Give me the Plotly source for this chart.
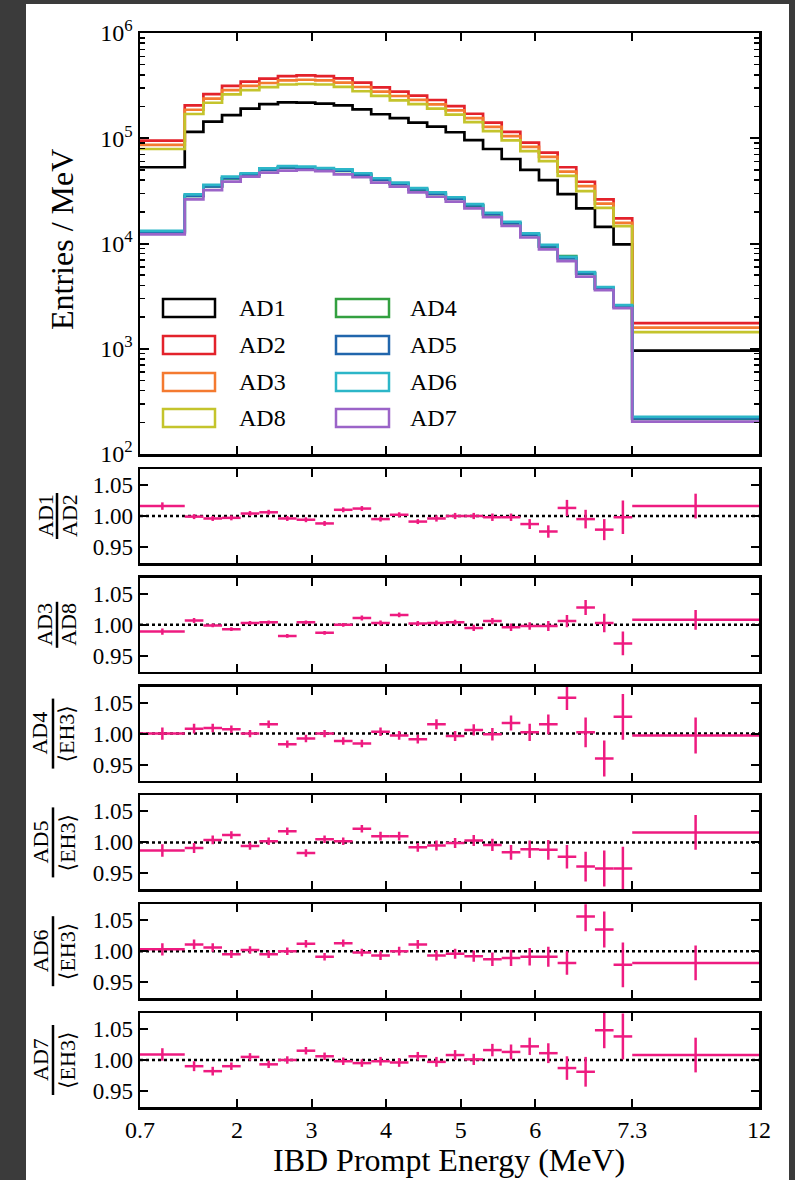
import plotly.graph_objects as go

# ---------------- data ----------------
EDGES = [0.7, 1.3, 1.55, 1.8, 2.05, 2.3, 2.55, 2.8, 3.05, 3.3, 3.55, 3.8, 4.05, 4.3,
         4.55, 4.8, 5.05, 5.3, 5.55, 5.8, 6.05, 6.3, 6.55, 6.8, 7.05, 7.3, 12.0]
TICK_VALUES = [0.7, 2, 3, 4, 5, 6, 7.3, 12]
TICK_LABELS = ["0.7", "2", "3", "4", "5", "6", "7.3", "12"]

AD1 = [53000, 115000, 143600, 166000, 191000, 211000, 219000, 218000, 213000, 205000, 188000, 169000, 155000,
       140500, 129000, 114000, 96000, 79000, 63500, 50000, 40000, 29500, 21600, 14400, 9800, 960]
AD2 = [95000, 205000, 262000, 315000, 345000, 368000, 390000, 395000, 390000, 371000, 337000, 305000, 277000,
       254000, 231000, 202000, 171000, 141000, 115000, 91000, 73000, 53000, 38600, 26300, 17300, 1750]
AD3 = [86500, 186500, 238400, 286600, 314000, 334900, 354900, 359500, 354900, 337600, 306700, 277600, 252100,
       231100, 210200, 183800, 155600, 128300, 104700, 82800, 66400, 48200, 35100, 23900, 15700, 1590]
AD8 = [79000, 170000, 217500, 261500, 286000, 305500, 324000, 327500, 324000, 307500, 279500, 253000, 229500,
       211000, 191500, 167500, 142000, 117000, 95500, 75500, 60500, 44000, 31500, 21800, 14600, 1440]
AD4 = [12750, 28300, 34800, 41600, 44900, 50000, 52500, 51800, 50300, 48900, 44900, 40200, 36600,
       32400, 29500, 26500, 22900, 18900, 15500, 12050, 9350, 7600, 5170, 3720, 2510, 216]
AD5 = [12800, 28400, 34900, 41800, 45100, 50200, 52800, 52100, 50500, 49200, 45100, 40400, 36800,
       32600, 29700, 26700, 23000, 19000, 15600, 12100, 9400, 7230, 5200, 3740, 2520, 218]
AD6 = [13200, 29300, 36000, 43100, 46500, 51800, 54400, 53700, 52100, 50700, 46500, 41700, 37900,
       33600, 30600, 27500, 23700, 19600, 16100, 12500, 9700, 7450, 5360, 3860, 2600, 225]
AD7 = [12200, 26300, 32200, 38700, 43100, 47100, 49200, 49900, 48800, 45300, 42600, 37800, 34700,
       30600, 27800, 25000, 21600, 17800, 14700, 11400, 8800, 6800, 4850, 3600, 2430, 203]

R_AD1_AD2 = [1.016, 0.999, 0.996, 0.997, 1.004, 1.006, 0.996, 0.994, 0.988, 1.010, 1.012, 0.995, 1.002,
             0.991, 0.996, 1.000, 1.000, 0.998, 0.998, 0.987, 0.975, 1.013, 0.995, 0.978, 0.998, 1.016]
E_AD1_AD2 = [0.006, 0.004, 0.004, 0.004, 0.004, 0.004, 0.004, 0.004, 0.004, 0.004, 0.004, 0.004, 0.004,
             0.004, 0.005, 0.005, 0.005, 0.006, 0.006, 0.008, 0.010, 0.013, 0.015, 0.017, 0.027, 0.020]
R_AD3_AD8 = [0.989, 1.007, 0.999, 0.993, 1.003, 1.004, 0.982, 1.004, 0.987, 1.000, 1.011, 1.003, 1.016,
             1.002, 1.003, 1.004, 0.995, 1.006, 0.996, 0.998, 0.998, 1.006, 1.028, 1.003, 0.970, 1.008]
E_AD3_AD8 = [0.005, 0.004, 0.003, 0.003, 0.003, 0.003, 0.003, 0.003, 0.003, 0.003, 0.004, 0.004, 0.004,
             0.004, 0.004, 0.004, 0.005, 0.005, 0.006, 0.006, 0.008, 0.010, 0.012, 0.015, 0.019, 0.016]
R_AD4 = [1.000, 1.008, 1.009, 1.007, 1.000, 1.015, 0.983, 0.992, 1.000, 0.988, 0.984, 1.003, 0.997,
         0.991, 1.015, 0.996, 1.006, 0.999, 1.017, 1.002, 1.015, 1.058, 1.002, 0.960, 1.027, 0.997]
E_AD4 = [0.010, 0.008, 0.007, 0.006, 0.006, 0.006, 0.006, 0.006, 0.006, 0.006, 0.006, 0.007, 0.007,
         0.007, 0.008, 0.008, 0.009, 0.010, 0.012, 0.014, 0.016, 0.020, 0.024, 0.029, 0.037, 0.029]
R_AD5 = [0.987, 0.991, 1.004, 1.012, 0.994, 1.002, 1.018, 0.983, 1.005, 1.002, 1.022, 1.010, 1.010,
         0.992, 0.995, 0.999, 1.003, 0.996, 0.984, 0.989, 0.988, 0.977, 0.961, 0.958, 0.958, 1.016]
E_AD5 = [0.010, 0.008, 0.007, 0.006, 0.006, 0.006, 0.006, 0.006, 0.006, 0.006, 0.006, 0.007, 0.007,
         0.007, 0.008, 0.008, 0.009, 0.010, 0.012, 0.014, 0.016, 0.019, 0.024, 0.029, 0.035, 0.028]
R_AD6 = [1.003, 1.011, 1.006, 0.995, 1.002, 0.995, 1.000, 1.012, 0.991, 1.013, 0.998, 0.993, 1.000,
         1.011, 0.993, 0.996, 0.992, 0.987, 0.989, 0.991, 0.991, 0.981, 1.056, 1.035, 0.978, 0.981]
E_AD6 = [0.010, 0.008, 0.007, 0.006, 0.006, 0.006, 0.006, 0.006, 0.006, 0.006, 0.006, 0.007, 0.007,
         0.007, 0.008, 0.008, 0.009, 0.011, 0.013, 0.014, 0.016, 0.019, 0.024, 0.029, 0.036, 0.028]
R_AD7 = [1.009, 0.990, 0.982, 0.990, 1.005, 0.993, 1.000, 1.015, 1.006, 0.998, 0.995, 0.998, 0.996,
         1.006, 0.997, 1.008, 1.001, 1.016, 1.013, 1.022, 1.011, 0.987, 0.981, 1.048, 1.038, 1.008]
E_AD7 = [0.010, 0.008, 0.007, 0.006, 0.006, 0.006, 0.006, 0.006, 0.006, 0.006, 0.006, 0.007, 0.007,
         0.007, 0.008, 0.008, 0.009, 0.010, 0.012, 0.014, 0.016, 0.019, 0.024, 0.029, 0.037, 0.028]

# ---------------- style ----------------
W, H = 795, 1180
FONT = "Liberation Serif, Times New Roman, DejaVu Serif, serif"
PINK = "#ee1b80"
DARK = "#3b3b3b"
BREAK = 7.3
TAIL = 1.7           # displayed width of the 7.3-12 MeV bin (MeV-equivalents)
E_MAX = 12.0


def to_axis(e):
    if e <= BREAK:
        return e
    return BREAK + (e - BREAK) * TAIL / (E_MAX - BREAK)


def px(x):
    return x / W


def py(y):
    return 1 - y / H


ax_edges = [to_axis(e) for e in EDGES]
centers = [(a + b) / 2 for a, b in zip(ax_edges[:-1], ax_edges[1:])]
halfw = [(b - a) / 2 for a, b in zip(ax_edges[:-1], ax_edges[1:])]
XR = [ax_edges[0], ax_edges[-1]]
TICKV = [to_axis(v) for v in TICK_VALUES]

fig = go.Figure()

spectra = [("AD1", AD1, "#000000"), ("AD2", AD2, "#e3222b"), ("AD3", AD3, "#f47a30"),
           ("AD8", AD8, "#c4c42c"), ("AD4", AD4, "#33a040"), ("AD5", AD5, "#2166ac"),
           ("AD6", AD6, "#2cb6c8"), ("AD7", AD7, "#9b64c8")]
for name, vals, col in spectra:
    fig.add_trace(go.Scatter(x=ax_edges, y=list(vals) + [vals[-1]], mode="lines",
                             line=dict(shape="hv", color=col, width=2.7), name=name,
                             xaxis="x", yaxis="y", showlegend=False, hoverinfo="skip"))

ratios = [(R_AD1_AD2, E_AD1_AD2, "AD1", "AD2"), (R_AD3_AD8, E_AD3_AD8, "AD3", "AD8"),
          (R_AD4, E_AD4, "AD4", "⟨EH3⟩"), (R_AD5, E_AD5, "AD5", "⟨EH3⟩"),
          (R_AD6, E_AD6, "AD6", "⟨EH3⟩"), (R_AD7, E_AD7, "AD7", "⟨EH3⟩")]

TOP = (33, 454)
PANEL_TOPS = [469, 577.8, 686.6, 795.4, 904.2, 1013]
PANEL_H = 94
X0, X1 = 140, 759

axis_common = dict(showline=True, linecolor="black", linewidth=2.5, mirror="ticks",
                   ticks="inside", tickcolor="black", tickwidth=2, showgrid=False, zeroline=False,
                   automargin=False)

layout = dict(width=W, height=H, margin=dict(l=0, r=0, t=0, b=0, pad=0, autoexpand=False),
              paper_bgcolor=DARK, plot_bgcolor="white", showlegend=False,
              font=dict(family=FONT, color="black"))

layout["xaxis"] = dict(axis_common, domain=[px(X0), px(X1)], range=XR, anchor="y",
                       tickmode="array", tickvals=TICKV, showticklabels=False, ticklen=8)
layout["yaxis"] = dict(axis_common, domain=[py(TOP[1]), py(TOP[0])], type="log", range=[2, 6],
                       anchor="x", tickmode="array", tickvals=[1e2, 1e3, 1e4, 1e5, 1e6],
                       ticktext=["10<sup>%d</sup>" % k for k in range(2, 7)], ticklen=9,
                       tickfont=dict(family=FONT, size=24),
                       minor=dict(ticks="inside", ticklen=5, tickwidth=1.5, tickcolor="black",
                                  dtick="D1", showgrid=False))

shapes = []
annotations = []

for i, (r, e, num, den) in enumerate(ratios):
    k = i + 2
    t = PANEL_TOPS[i]
    xa, ya = "xaxis%d" % k, "yaxis%d" % k
    last = (i == len(ratios) - 1)
    layout[xa] = dict(axis_common, domain=[px(X0), px(X1)], range=XR, anchor="y%d" % k,
                      tickmode="array", tickvals=TICKV, ticktext=TICK_LABELS,
                      showticklabels=last, ticklen=8, tickfont=dict(family=FONT, size=24))
    layout[ya] = dict(axis_common, domain=[py(t + PANEL_H), py(t)], range=[0.9242, 1.0758],
                      anchor="x%d" % k, tickmode="array", tickvals=[0.95, 1.0, 1.05],
                      ticktext=["0.95", "1.00", "1.05"], ticklen=8,
                      tickfont=dict(family=FONT, size=23))
    fig.add_trace(go.Scatter(x=centers, y=r, mode="markers", marker=dict(size=1, color=PINK),
                             error_y=dict(type="data", array=e, width=0, thickness=2.5, color=PINK),
                             error_x=dict(type="data", array=halfw, width=0, thickness=2.5, color=PINK),
                             xaxis="x%d" % k, yaxis="y%d" % k, showlegend=False, hoverinfo="skip"))
    shapes.append(dict(type="line", xref="x%d" % k, yref="y%d" % k, x0=XR[0], x1=XR[1], y0=1, y1=1,
                       line=dict(color="black", width=2.5, dash="dot"), layer="below"))
    # stacked-fraction axis label
    yc = t + PANEL_H / 2
    if den == "AD2" or den == "AD8":
        xn, xb, xd, blen = 45, 57, 69, 46
    else:
        xn, xb, xd, blen = 40, 53, 67, 70
    annotations.append(dict(text=num, x=px(xn), y=py(yc), xref="paper", yref="paper", textangle=-90,
                            showarrow=False, xanchor="center", yanchor="middle",
                            font=dict(family=FONT, size=22, color="black")))
    annotations.append(dict(text=den, x=px(xd), y=py(yc), xref="paper", yref="paper", textangle=-90,
                            showarrow=False, xanchor="center", yanchor="middle",
                            font=dict(family=FONT, size=22, color="black")))
    shapes.append(dict(type="line", xref="paper", yref="paper", x0=px(xb), x1=px(xb),
                       y0=py(yc - blen / 2), y1=py(yc + blen / 2), line=dict(color="black", width=2.5)))

# white page behind the figure
shapes.insert(0, dict(type="rect", xref="paper", yref="paper", x0=px(26), x1=px(789), y0=0, y1=py(4),
                      fillcolor="white", line=dict(width=0), layer="below"))

# legend drawn as outlined boxes
legend_cols = [[("AD1", "#000000"), ("AD2", "#e3222b"), ("AD3", "#f47a30"), ("AD8", "#c4c42c")],
               [("AD4", "#33a040"), ("AD5", "#2166ac"), ("AD6", "#2cb6c8"), ("AD7", "#9b64c8")]]
row_y = [308, 345, 382, 418]
col_box = [(163, 215, 237), (336, 389, 408)]
for c, entries in enumerate(legend_cols):
    bx0, bx1, tx = col_box[c]
    for j, (name, col) in enumerate(entries):
        yy = row_y[j]
        shapes.append(dict(type="rect", xref="paper", yref="paper", x0=px(bx0), x1=px(bx1),
                           y0=py(yy + 9), y1=py(yy - 9), line=dict(color=col, width=2.5),
                           fillcolor="rgba(0,0,0,0)"))
        annotations.append(dict(text=name, x=px(tx), y=py(yy), xref="paper", yref="paper",
                                showarrow=False, xanchor="left", yanchor="middle",
                                font=dict(family=FONT, size=24, color="black")))

annotations.append(dict(text="Entries / MeV", x=px(62), y=py(240), xref="paper", yref="paper",
                        textangle=-90, showarrow=False, xanchor="center", yanchor="middle",
                        font=dict(family=FONT, size=32, color="black")))
annotations.append(dict(text="IBD Prompt Energy (MeV)", x=px(449), y=py(1160), xref="paper", yref="paper",
                        showarrow=False, xanchor="center", yanchor="middle",
                        font=dict(family=FONT, size=32, color="black")))

layout["shapes"] = shapes
layout["annotations"] = annotations
fig.update_layout(**layout)
fig.write_html("out.html", config={"displayModeBar": False, "staticPlot": True},
               post_script="document.body.style.margin='0';document.body.style.background='%s';" % DARK)
